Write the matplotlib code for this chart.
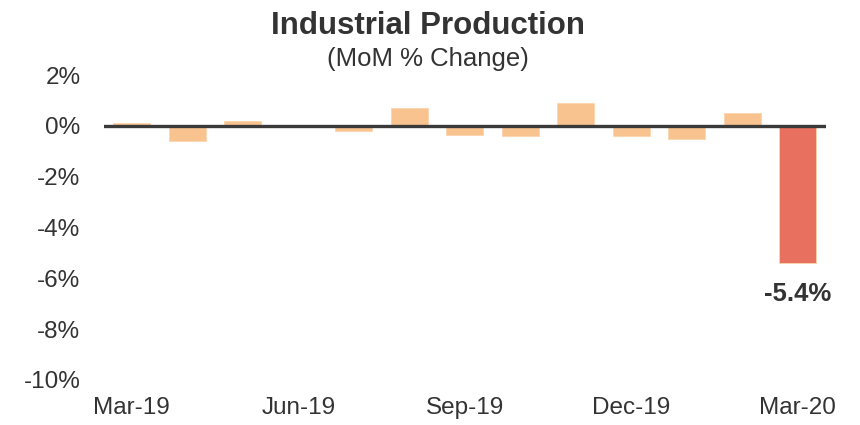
import matplotlib
matplotlib.use("Agg")
import matplotlib.pyplot as plt
import numpy as np

months = ["Mar-19", "Apr-19", "May-19", "Jun-19", "Jul-19", "Aug-19", "Sep-19",
          "Oct-19", "Nov-19", "Dec-19", "Jan-20", "Feb-20", "Mar-20"]
values = [0.1, -0.6, 0.2, 0.0, -0.2, 0.7, -0.35, -0.4, 0.9, -0.4, -0.5, 0.5, -5.4]
tick_labels = ["Mar-19", "Jun-19", "Sep-19", "Dec-19", "Mar-20"]
yticks = [2, 0, -2, -4, -6, -8, -10]

plt.rcParams['font.family'] = ['Liberation Sans', 'DejaVu Sans']
text_color = "#333333"

fig = plt.figure(figsize=(8.6, 4.25), dpi=100)
ax = fig.add_axes([0.121, 0.106, 0.839, 0.7175])

x = np.arange(len(months))
colors = ["#F9C38F"] * (len(values) - 1) + ["#E8705F"]
ax.bar(x, values, width=0.67, color=colors, edgecolor="#FBD5AE", linewidth=0.6, zorder=2)
ax.axhline(0, color="#3a3a3a", linewidth=2.4, zorder=3)

ax.set_xlim(-0.5, len(months) - 0.5)
ax.set_ylim(-10, 2)
ax.set_yticks(yticks)
ax.set_yticklabels([f"{v}%" for v in yticks])
ax.set_xticks([months.index(t) for t in tick_labels])
ax.set_xticklabels(tick_labels)
ax.tick_params(axis='y', length=0, pad=17, labelsize=17.5, colors=text_color)
ax.tick_params(axis='x', length=0, pad=12, labelsize=17.5, colors=text_color)
for s in ax.spines.values():
    s.set_visible(False)

ax.text(x[-1], values[-1] - 1.2, f"{values[-1]}%", ha="center", va="center",
        fontsize=18.5, fontweight="bold", color=text_color)

fig.text(0.498, 0.94, "Industrial Production", ha="center", va="center",
         fontsize=22.5, fontweight="bold", color=text_color)
fig.text(0.498, 0.862, "(MoM % Change)", ha="center", va="center",
         fontsize=18.5, color=text_color)

fig.savefig("out.png", dpi=100)
